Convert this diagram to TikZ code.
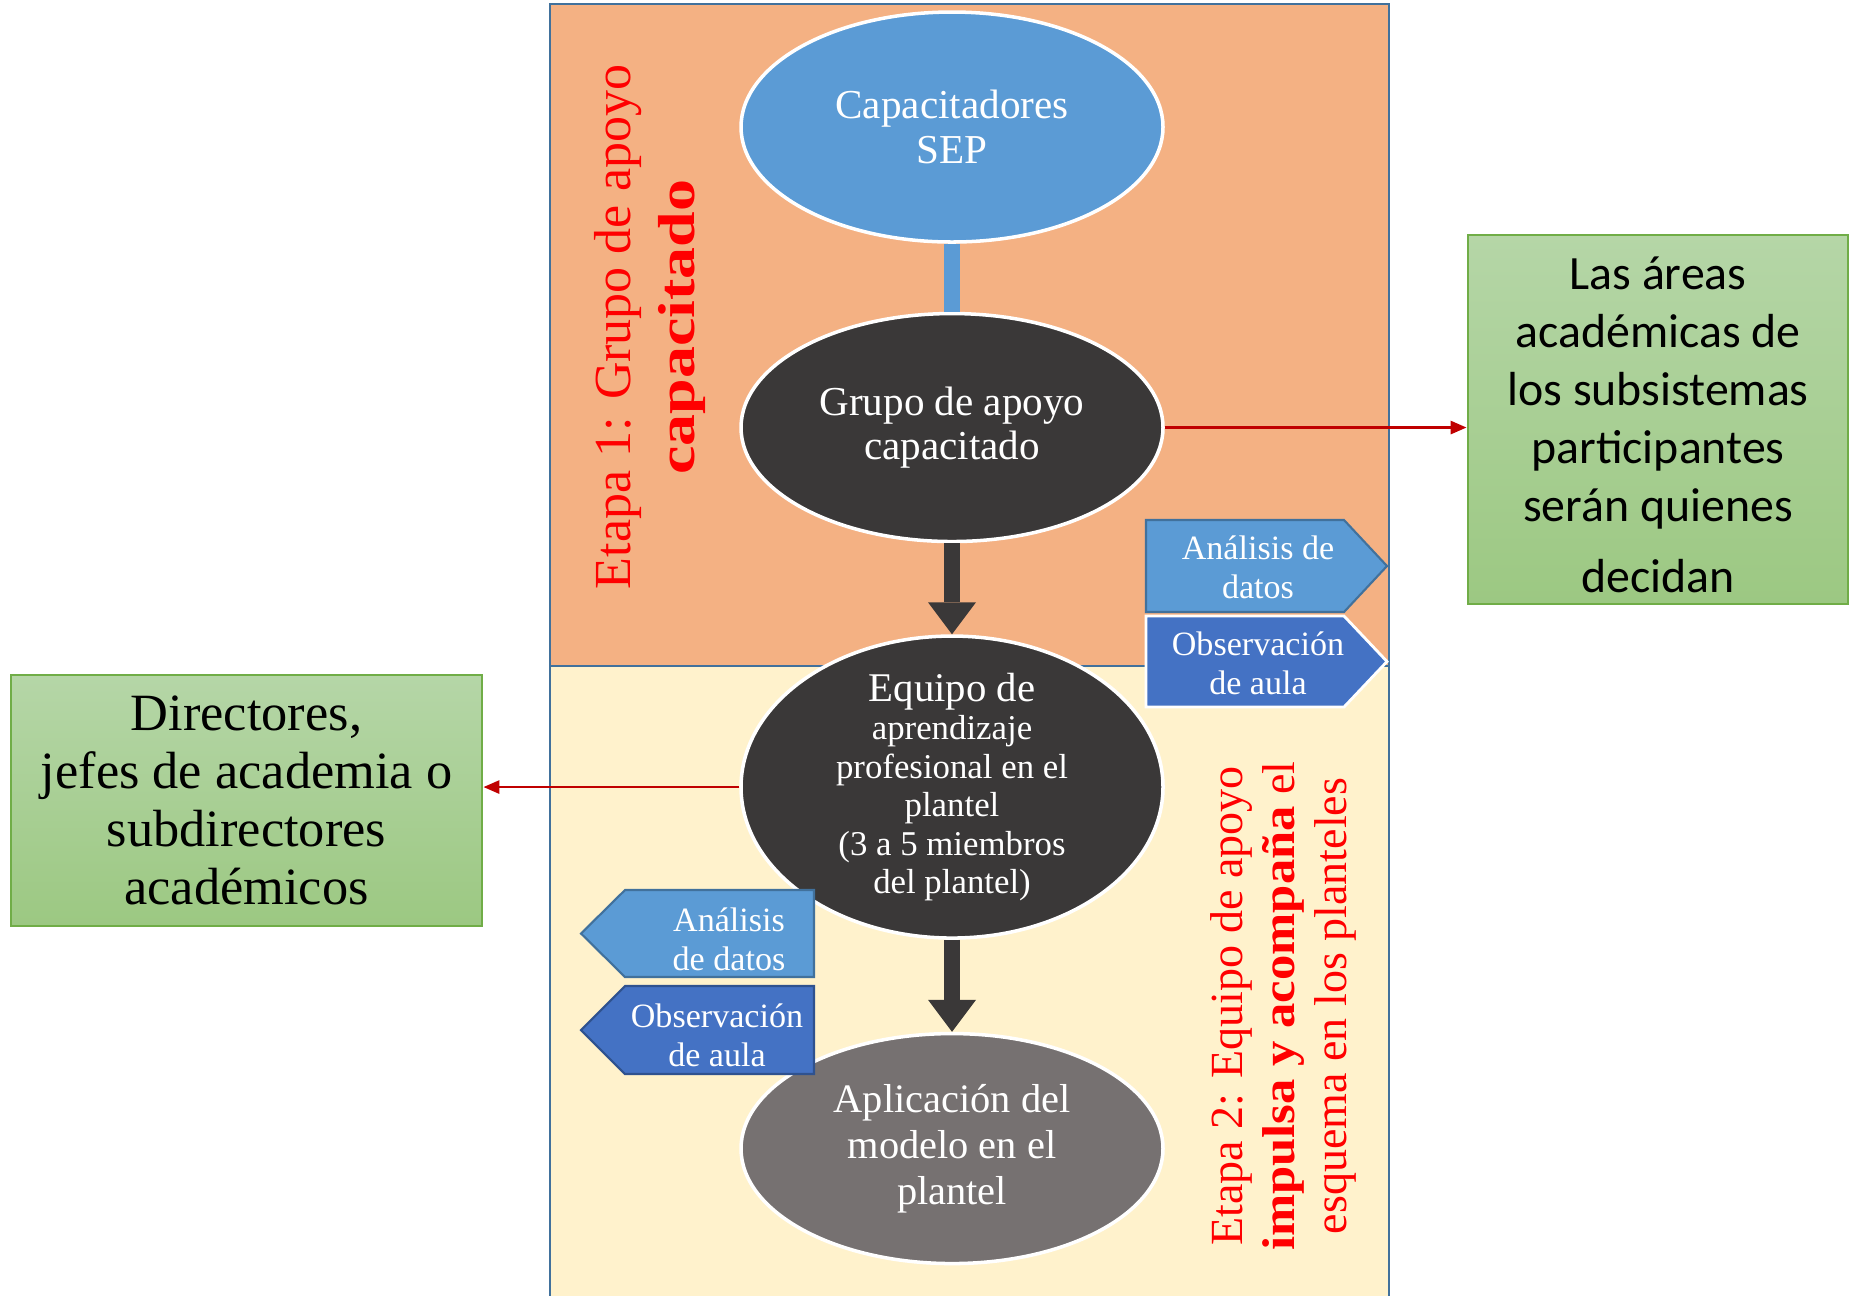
\documentclass[tikz,border=0pt]{standalone}
\usepackage{fontspec}
\setmainfont{Liberation Serif}
\newfontfamily\calibri{Carlito}
\usetikzlibrary{positioning}
\usetikzlibrary{shapes.geometric}
\usetikzlibrary{arrows.meta}

\definecolor{naranja}{HTML}{F4B183}
\definecolor{crema}{HTML}{FFF2CC}
\definecolor{marco}{HTML}{41719C}
\definecolor{azul}{HTML}{5B9BD5}
\definecolor{azuloscuro}{HTML}{4472C4}
\definecolor{azulborde}{HTML}{2F528F}
\definecolor{grisoscuro}{HTML}{3A3838}
\definecolor{gris}{HTML}{767171}
\definecolor{verdeclaro}{HTML}{B5D6A7}
\definecolor{verde}{HTML}{9CC882}
\definecolor{verdeborde}{HTML}{70AD47}
\definecolor{rojo}{HTML}{C00000}

\tikzset{
    elipse/.style={
           ellipse,
           draw=white, line width=1pt,
           minimum width=4.22cm,
           minimum height=2.30cm,
           inner sep=0pt,
           text=white,
           align=center,
           font=\fontsize{11.7}{12.6}\selectfont,
           },
    caja/.style={
           rectangle,
           draw=verdeborde, line width=0.8pt,
           top color=verdeclaro, bottom color=verde,
           inner sep=2pt,
           align=center,
           },
    marcoetapa/.style={
           draw=marco, line width=0.6pt,
           },
    senalclara/.style={
           fill=azul, draw=marco, line width=0.6pt,
           },
    senaloscura/.style={
           fill=azuloscuro, draw=white, line width=0.8pt,
           },
    etiqueta/.style={
           text=white,
           align=center,
           inner sep=0pt,
           font=\fontsize{9.7}{11}\selectfont,
           },
    etapa/.style={
           text=red,
           align=center,
           rotate=90,
           inner sep=0pt,
           font=\fontsize{14.8}{18.2}\selectfont,
           },
    conector/.style={
           -, line width=0.16cm, color=azul,
           },
    flecha/.style={
           -{Triangle[length=0.32cm,width=0.48cm,line width=0pt]},
           line width=0.16cm, color=grisoscuro,
           },
    flecharoja/.style={
           -{Triangle[length=0.16cm,width=0.13cm]},
           line width=0.8pt, color=rojo,
           },
}

\begin{document}
\begin{tikzpicture}
	\useasboundingbox (0,0) rectangle (18.54,-12.95);

	% las dos etapas
	\draw[marcoetapa, fill=naranja] (5.50,-0.04) rectangle (13.89,-6.66);
	\draw[marcoetapa, fill=crema] (5.50,-6.66) rectangle (13.89,-13.10);

	\node[etapa] (etapa1) at (6.50,-3.27) {
		Etapa 1: Grupo de apoyo\\
		\scalebox{1.23}[1]{\textbf{capacitado}}
	};
	\node[etapa, font=\fontsize{13.1}{14.8}\selectfont] (etapa2) at (12.83,-10.06) {
		Etapa 2: Equipo de apoyo\\
		\scalebox{1.1}[1]{\textbf{impulsa y acompaña}} el\\
		esquema en los planteles
	};

	% flujo central
	\node[elipse, fill=azul] (capacitadores) at (9.52,-1.27) {Capacitadores\\SEP};
	\node[elipse, fill=grisoscuro, minimum height=2.28cm, below=0.68cm of capacitadores] (grupo) {
		Grupo de apoyo\\capacitado
	};
	\node[elipse, fill=grisoscuro, minimum height=3.02cm, inner ysep=-4pt,
		below=0.91cm of grupo, font=\fontsize{9.9}{10.95}\selectfont] (equipo) {
		{\fontsize{11.6}{12}\selectfont Equipo de}\\
		aprendizaje\\
		profesional en el\\
		plantel\\
		(3 a 5 miembros\\
		del plantel)
	};
	\node[elipse, fill=gris, below=0.92cm of equipo,
		font=\fontsize{11.5}{13}\selectfont] (aplicacion) {
		Aplicación del\\modelo en el\\plantel
	};

	\path[conector]	(capacitadores) edge (grupo);
	\path[flecha]	(grupo) edge (equipo)
			(equipo) edge (aplicacion);

	% senales
	\draw[senalclara] (11.46,-5.20) -- (13.44,-5.20) -- (13.87,-5.66) -- (13.44,-6.12) -- (11.46,-6.12) -- cycle;
	\draw[senaloscura] (11.46,-6.16) -- (13.44,-6.16) -- (13.87,-6.615) -- (13.44,-7.07) -- (11.46,-7.07) -- cycle;
	\draw[senalclara] (8.14,-8.90) -- (6.25,-8.90) -- (5.81,-9.335) -- (6.25,-9.77) -- (8.14,-9.77) -- cycle;
	\draw[senalclara, fill=azuloscuro, draw=azulborde] (8.14,-9.86) -- (6.25,-9.86) -- (5.81,-10.30) -- (6.25,-10.74) -- (8.14,-10.74) -- cycle;

	\node[etiqueta] (datos1) at (12.58,-5.67) {Análisis de\\datos};
	\node[etiqueta] (aula1) at (12.58,-6.63) {Observación\\de aula};
	\node[etiqueta] (datos2) at (7.29,-9.39) {Análisis\\de datos};
	\node[etiqueta] (aula2) at (7.17,-10.35) {Observación\\de aula};

	% cajas laterales
	\node[caja, minimum width=3.80cm, minimum height=3.69cm,
		font=\calibri\fontsize{13.6}{16.5}\selectfont] (areas) at (16.58,-4.195) {
		\rule{0pt}{12.5pt}Las áreas\\
		académicas de\\
		los subsistemas\\
		participantes\\
		serán quienes\\[3.7pt]
		decidan
	};
	\node[caja, minimum width=4.71cm, minimum height=2.51cm,
		font=\fontsize{14.9}{16.5}\selectfont] (directores) at (2.465,-8.005) {
		Directores,\\
		jefes de academia o\\
		subdirectores\\
		académicos
	};

	\path[flecharoja]	(grupo.east) edge (grupo.east -| areas.west)
				(equipo.west) edge (equipo.west -| directores.east);

\end{tikzpicture}
\end{document}
